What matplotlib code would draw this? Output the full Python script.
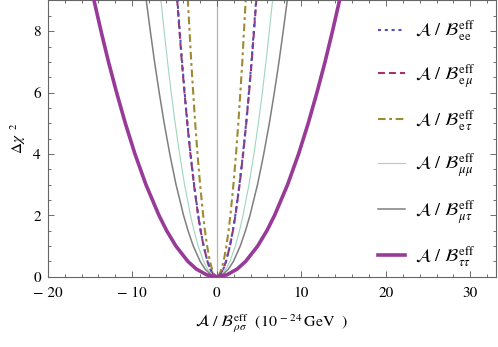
import numpy as np
import matplotlib
matplotlib.use("Agg")
import matplotlib.pyplot as plt
from matplotlib.ticker import FixedLocator, MultipleLocator, FixedFormatter

plt.rcParams['font.family'] = ['STIXGeneral', 'DejaVu Serif']
plt.rcParams['mathtext.fontset'] = 'stix'
plt.rcParams['lines.scale_dashes'] = False

dchi2 = [0, 0.06, 0.25, 0.5, 1, 1.5, 2, 3, 4, 5, 6, 7, 8, 9, 10]

# half-width of each curve (10^-24 GeV) at those levels
hw_ee = [0, 0.38, 0.78, 1.10, 1.55, 1.90, 2.19, 2.68, 3.10, 3.47, 3.80, 4.10, 4.38, 4.65, 4.90]
hw_emu = [0, 0.38, 0.78, 1.10, 1.56, 1.91, 2.21, 2.70, 3.12, 3.49, 3.82, 4.13, 4.41, 4.68, 4.93]
hw_etau = [0, 0.28, 0.57, 0.81, 1.14, 1.40, 1.61, 1.97, 2.28, 2.55, 2.79, 3.02, 3.22, 3.42, 3.60]
hw_mumu = [0, 0.54, 1.10, 1.56, 2.20, 2.69, 3.11, 3.81, 4.40, 4.92, 5.39, 5.82, 6.22, 6.60, 6.96]
hw_mutau = [0, 0.68, 1.39, 1.97, 2.78, 3.40, 3.93, 4.82, 5.56, 6.22, 6.81, 7.36, 7.86, 8.34, 8.79]
hw_tautau = [0, 1.19, 2.42, 3.42, 4.84, 5.93, 6.84, 8.38, 9.68, 10.82, 11.85, 12.81, 13.69, 14.52, 15.31]

labels = [
    r'$\mathcal{A}\ /\ \mathcal{B}^{\,\rm eff}_{\,\rm ee}$',
    r'$\mathcal{A}\ /\ \mathcal{B}^{\,\rm eff}_{\,{\rm e}\,\mu}$',
    r'$\mathcal{A}\ /\ \mathcal{B}^{\,\rm eff}_{\,{\rm e}\,\tau}$',
    r'$\mathcal{A}\ /\ \mathcal{B}^{\,\rm eff}_{\,\mu\mu}$',
    r'$\mathcal{A}\ /\ \mathcal{B}^{\,\rm eff}_{\,\mu\tau}$',
    r'$\mathcal{A}\ /\ \mathcal{B}^{\,\rm eff}_{\,\tau\tau}$',
]
xticks = [-20, -10, 0, 10, 20, 30]
xticklabels = ['\u2212 20', '\u2212 10', '0', '10', '20', '30']
yticks = [0, 2, 4, 6, 8]

styles = [
    dict(color='#5050b8', lw=1.5, dashes=(2.2, 2.7), zorder=3),
    dict(color='#a3336f', lw=1.5, dashes=(5.0, 2.9), zorder=2),
    dict(color='#9c8b33', lw=1.5, dashes=(5.5, 2.6, 2.0, 2.6), zorder=2),
    dict(color='#9fd6bd', lw=0.8, zorder=2),
    dict(color='#7f7f7f', lw=1.1, zorder=2),
    dict(color='#983a98', lw=2.6, zorder=4),
]

fig = plt.figure(figsize=(4.98, 3.47), dpi=100)
ax = fig.add_axes([0.0958, 0.2026, 0.8996, 0.796])

ax.axvline(0, color='#b4b4b4', lw=0.9, zorder=1)

y = np.array(dchi2)
for hw, st, lab in zip([hw_ee, hw_emu, hw_etau, hw_mumu, hw_mutau, hw_tautau], styles, labels):
    hw = np.array(hw)
    xs = np.concatenate([-hw[::-1], hw[1:]])
    ys = np.concatenate([y[::-1], y[1:]])
    ax.plot(xs, ys, label=lab, solid_joinstyle='round', **st)

ax.set_xlim(-20, 33)
ax.set_ylim(0, 9)

ax.xaxis.set_major_locator(FixedLocator(xticks))
ax.xaxis.set_major_formatter(FixedFormatter(xticklabels))
ax.xaxis.set_minor_locator(MultipleLocator(2))
ax.yaxis.set_major_locator(FixedLocator(yticks))
ax.yaxis.set_minor_locator(MultipleLocator(0.5))
ax.tick_params(which='both', direction='in', top=True, right=True,
               color='#555555', labelsize=11, width=0.6)
ax.tick_params(which='major', length=4)
ax.tick_params(which='minor', length=2.3)
ax.tick_params(axis='x', pad=7)
ax.tick_params(axis='y', pad=5)
for sp in ax.spines.values():
    sp.set_color('#666666')
    sp.set_linewidth(0.8)

ax.set_xlabel(r'$\mathcal{A}\ /\ \mathcal{B}^{\,\rm eff}_{\,\rho\sigma}\ \ (10^{\,-\,24}\,{\rm GeV}\ \ )$',
              fontsize=11.5, labelpad=9)
ax.set_ylabel(r'$\Delta\chi^{\ \ 2}$', fontsize=11, labelpad=4)

ax.legend(loc='upper left', bbox_to_anchor=(0.738, 0.935), frameon=False,
          fontsize=13, handlelength=1.45, handletextpad=0.6, labelspacing=1.02,
          borderpad=0, borderaxespad=0)

fig.savefig('out.png', dpi=100)
